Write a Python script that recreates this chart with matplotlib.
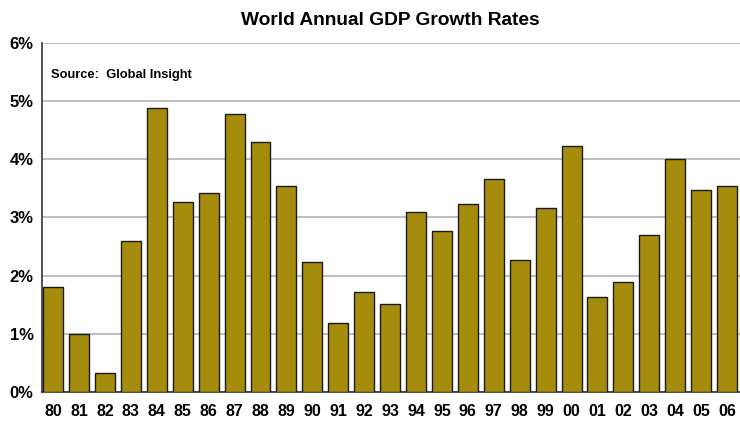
import matplotlib.pyplot as plt

plt.rcParams['font.family'] = ['Liberation Sans', 'DejaVu Sans']

years = ['80', '81', '82', '83', '84', '85', '86', '87', '88', '89', '90', '91', '92', '93',
         '94', '95', '96', '97', '98', '99', '00', '01', '02', '03', '04', '05', '06']
growth = [1.80, 1.00, 0.33, 2.60, 4.88, 3.27, 3.42, 4.78, 4.30, 3.54, 2.23, 1.19, 1.72, 1.51,
          3.09, 2.77, 3.23, 3.66, 2.27, 3.16, 4.23, 1.63, 1.89, 2.70, 4.01, 3.47, 3.54]
y_ticks = [0, 1, 2, 3, 4, 5, 6]

fig = plt.figure(figsize=(7.4, 4.24), dpi=100)
ax = fig.add_axes([0.0568, 0.0755, 0.9432, 0.8231])

x = range(len(years))
ax.bar(x, growth, width=0.77, color='#A68C0C', edgecolor='#1a1a1a', linewidth=1.0, zorder=3)

ax.set_xlim(-0.43, 26.5)
ax.set_ylim(0, 6)
ax.set_yticks(y_ticks)
ax.set_yticklabels([f'{v}%' for v in y_ticks], fontsize=12, fontweight='bold')
ax.set_xticks(list(x))
ax.set_xticklabels(years, fontsize=11.5, fontweight='bold')
ax.tick_params(axis='both', length=0)
ax.tick_params(axis='x', pad=9)
ax.tick_params(axis='y', pad=6)

ax.grid(axis='y', color='#b4b4b4', linewidth=1.2, zorder=0)
for s in ['top', 'right']:
    ax.spines[s].set_visible(False)
ax.spines['left'].set_color('#333333')
ax.spines['bottom'].set_color('#333333')
ax.spines['left'].set_linewidth(1.2)
ax.spines['bottom'].set_linewidth(1.2)

ax.text(0.013, 0.9, 'Source:  Global Insight', transform=ax.transAxes,
        fontsize=9.3, fontweight='bold')
fig.text(0.527, 0.952, 'World Annual GDP Growth Rates', ha='center', va='center',
         fontsize=13.8, fontweight='bold')

plt.savefig('out.png', dpi=100)
